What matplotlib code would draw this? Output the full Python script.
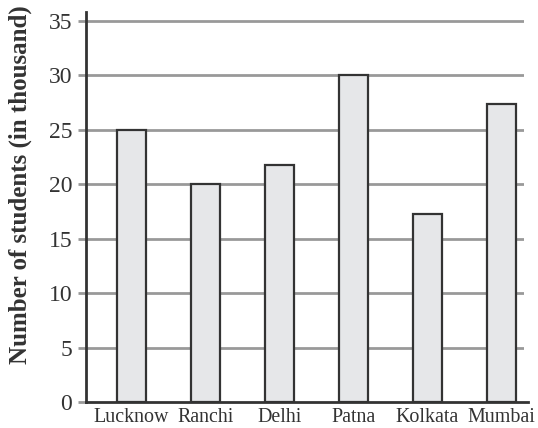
import matplotlib
matplotlib.use('Agg')
import matplotlib.pyplot as plt
import numpy as np

# DATA
cities = ['Lucknow', 'Ranchi', 'Delhi', 'Patna', 'Kolkata', 'Mumbai']
students = [25, 20, 21.8, 30, 17.3, 27.4]
y_ticks = [0, 5, 10, 15, 20, 25, 30, 35]

plt.rcParams['font.family'] = ['Liberation Serif', 'DejaVu Serif']

fig = plt.figure(figsize=(5.38, 4.28), dpi=100)
ax = fig.add_axes([86/538, 26/428, (524-86)/538, (402-11.7)/428])

x = np.arange(len(cities))

# gridlines behind the bars (not at 0)
for t in y_ticks[1:]:
    ax.axhline(t, color='#999999', lw=2.0, zorder=1)

ax.bar(x, students, width=0.39, color='#e6e7e9', edgecolor='#333333',
       linewidth=1.6, zorder=2)

ax.set_xlim(-0.615, 5.304)
ax.set_ylim(0, 35.83)

ax.set_yticks(y_ticks)
ax.set_yticklabels([str(t) for t in y_ticks], fontsize=17, color='#333333')
ax.set_xticks(x)
ax.set_xticklabels(cities, fontsize=14.4, color='#333333')

ax.tick_params(axis='y', length=6, width=2.0, color='#999999', pad=4)
ax.tick_params(axis='x', length=0, pad=4)

for s in ['top', 'right', 'bottom']:
    ax.spines[s].set_visible(False)
ax.spines['left'].set_color('#333333')
ax.spines['left'].set_linewidth(2.0)
ax.spines['left'].set_zorder(3)

# baseline reaches a bit past the right end of the grid
ax.axhline(0, xmin=0, xmax=1.01, color='#333333', lw=2.0, clip_on=False, zorder=3)

fig.text(20/538, 1 - 185/428, 'Number of students (in thousand)', rotation=90,
         ha='center', va='center', fontsize=18, fontweight='bold', color='#333333')

fig.savefig('out.png', dpi=100)
